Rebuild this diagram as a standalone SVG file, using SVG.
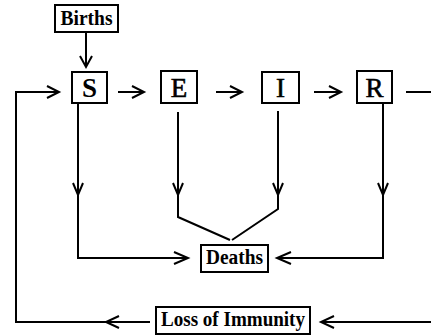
<svg xmlns="http://www.w3.org/2000/svg" width="431" height="335" viewBox="0 0 431 335">
<style>
.box{fill:#fff;stroke:#000;stroke-width:2}
.ln{fill:none;stroke:#000;stroke-width:2}
.t{font-family:"Liberation Serif","Times New Roman",serif;font-weight:bold;fill:#000;text-anchor:middle}
.big{font-size:27px}
.sm{font-size:20px}
.n{font-weight:normal;stroke:#000;stroke-width:0.6}
</style>
<rect width="431" height="335" fill="#fff"/>
<g id="connectors">
<path class="ln" d="M86,32 V66"/>
<path class="ln" d="M80,56 L86,67 L92,56"/>
<path class="ln" d="M118,92 H144"/>
<path class="ln" d="M132,86 L144,92 L132,98"/>
<path class="ln" d="M216,92 H242"/>
<path class="ln" d="M230,86 L242,92 L230,98"/>
<path class="ln" d="M314,92 H341"/>
<path class="ln" d="M329,86 L341,92 L329,98"/>
<path class="ln" d="M406,92 H431"/>
<path class="ln" d="M150,322 H16 V92 H59"/>
<path class="ln" d="M47,86 L59,92 L47,98"/>
<path class="ln" d="M119,316 L106,322 L119,328"/>
<path class="ln" d="M431,322 H321"/>
<path class="ln" d="M334,316 L321,322 L334,328"/>
<path class="ln" d="M78,103 V258 H188"/>
<path class="ln" d="M73,183 L78,195 L83,183"/>
<path class="ln" d="M174,252 L188,258 L174,264"/>
<path class="ln" d="M383,103 V258 H277"/>
<path class="ln" d="M378,183 L383,195 L388,183"/>
<path class="ln" d="M291,252 L277,258 L291,264"/>
<path class="ln" d="M178,112 V217 L230,240"/>
<path class="ln" d="M173,183 L178,195 L183,183"/>
<path class="ln" d="M278,111 V209 L232,240"/>
<path class="ln" d="M273,183 L278,195 L283,183"/>
</g>
<g id="births">
<rect class="box" x="55" y="5" width="63" height="27"/>
<text class="t sm" x="86.5" y="25" textLength="52" lengthAdjust="spacingAndGlyphs">Births</text>
</g>
<g id="S">
<rect class="box" x="72" y="72" width="35" height="31"/>
<text class="t big" x="89.5" y="97">S</text>
</g>
<g id="E">
<rect class="box" x="161" y="71" width="36" height="32"/>
<text class="t big n" x="179" y="97">E</text>
</g>
<g id="I">
<rect class="box" x="262" y="72" width="37" height="31"/>
<text class="t big n" x="280.5" y="97">I</text>
</g>
<g id="R">
<rect class="box" x="357" y="71" width="35" height="32"/>
<text class="t big n" x="374.5" y="97">R</text>
</g>
<g id="deaths">
<rect class="box" x="201" y="245" width="67" height="27"/>
<text class="t sm" x="234.5" y="264" textLength="57" lengthAdjust="spacingAndGlyphs">Deaths</text>
</g>
<g id="loss">
<rect class="box" x="156" y="307" width="154" height="27"/>
<text class="t sm" x="233" y="326" textLength="144" lengthAdjust="spacingAndGlyphs">Loss of Immunity</text>
</g>
</svg>
